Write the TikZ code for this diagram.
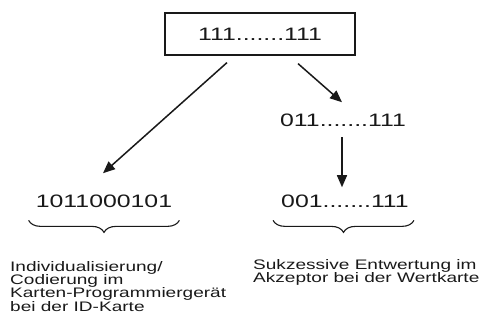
\documentclass[tikz,border=0pt]{standalone}
\usepackage{fontspec}
\usepackage{tikz}
\usetikzlibrary{arrows.meta,decorations.pathreplacing}
\newfontfamily\scanfont[FakeStretch=1.38]{Liberation Sans}
\tikzset{
    bits/.style={font=\scanfont\fontsize{18}{20}\selectfont, inner sep=0pt, anchor=base, text=black!90},
    note/.style={font=\scanfont\fontsize{13.8}{13.3}\selectfont, inner sep=0pt, anchor=north west, align=left, text=black!90},
    arr/.style={line width=1.5pt, draw=black!90, -{Triangle[length=12pt,width=10pt]}},
    brc/.style={line width=1.1pt, draw=black!90, decorate, decoration={brace, mirror, amplitude=12pt}}
}
\begin{document}
\begin{tikzpicture}[x=1pt,y=-1pt]
                \useasboundingbox
                    (0,0) rectangle (483,323);
                \node[draw=black!90, line width=1.2pt, minimum width=190pt, minimum height=42pt,
                      font=\scanfont\fontsize{18}{20}\selectfont, text=black!90, inner sep=0pt]
                    (top) at (260,34) {111.......111};
                \node[bits]
                    (mnum) at (343,127) {011.......111};
                \node[bits]
                    (lnum) at (104,208) {1011000101};
                \node[bits]
                    (rnum) at (345,208) {001.......111};
                \node[note]
                    (lnote) at (10,261) {Individualisierung/\\Codierung im\\Karten-Programmiergerät\\bei der ID-Karte};
                \node[note]
                    (rnote) at (253,259) {Sukzessive Entwertung im\\Akzeptor bei der Wertkarte};
                \draw[arr]
                    ([xshift=-33pt,yshift=-7pt]top.south) -- ([xshift=-1pt,yshift=22pt]lnum.north);
                \draw[arr]
                    ([xshift=38pt,yshift=-8pt]top.south) -- ([xshift=-1pt,yshift=12pt]mnum.north);
                \draw[arr]
                    ([xshift=-1pt,yshift=-10pt]mnum.south) -- ([xshift=-3pt,yshift=8pt]rnum.north);
                \draw[brc]
                    ([xshift=-7pt,yshift=-12pt]lnum.south west) -- ([xshift=7pt,yshift=-12pt]lnum.south east);
                \draw[brc]
                    ([xshift=-8pt,yshift=-12pt]rnum.south west) -- ([xshift=5pt,yshift=-12pt]rnum.south east);
            \end{tikzpicture}
\end{document}
